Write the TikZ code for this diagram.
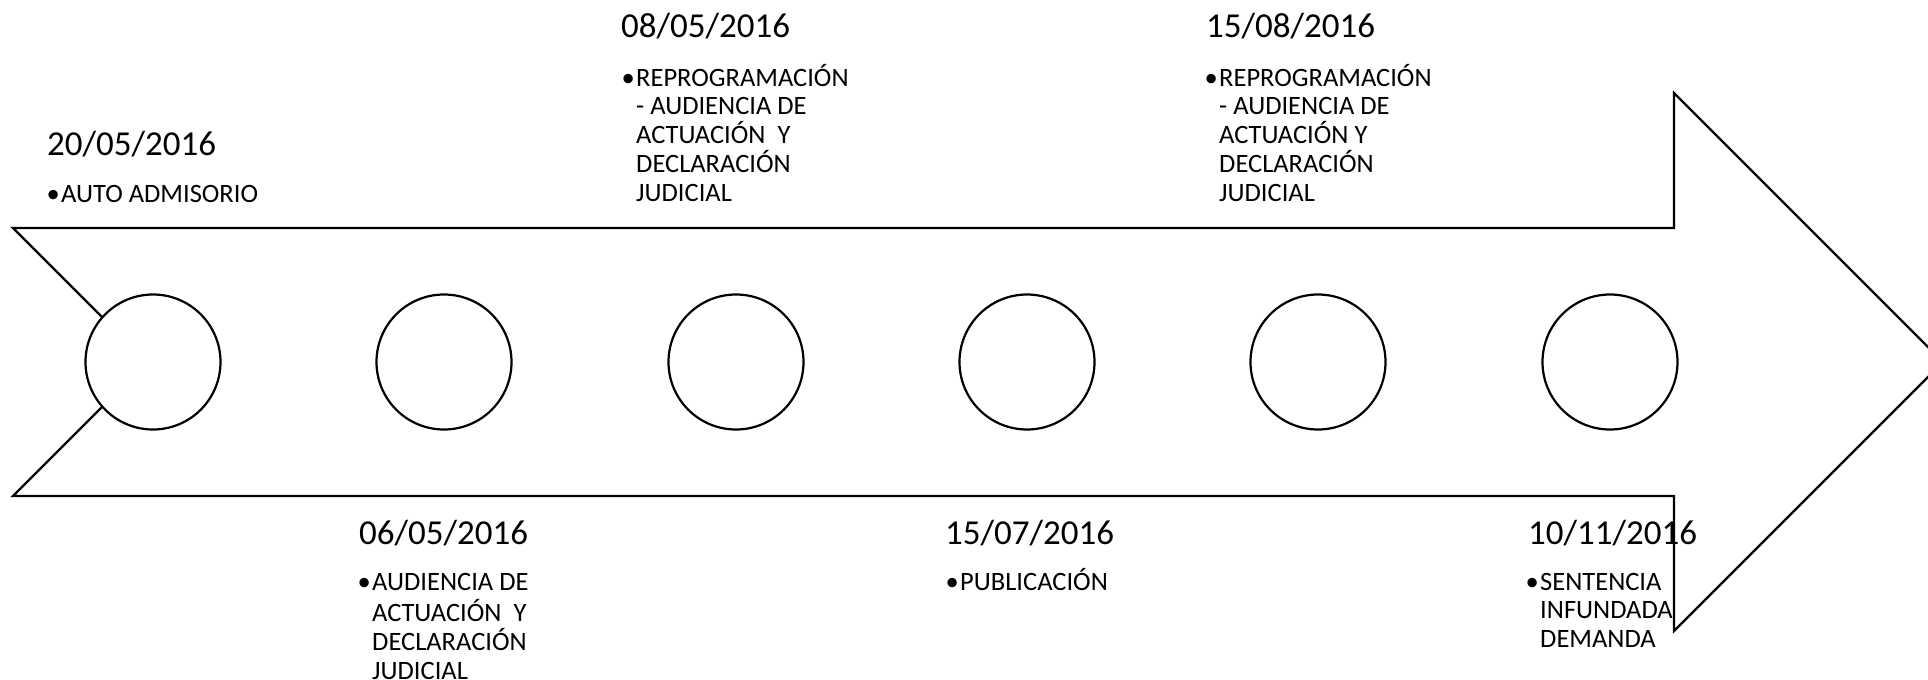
\documentclass[tikz,border=0pt]{standalone}
\usepackage{fontspec}
\setmainfont{Carlito}
\tikzset{
  outline/.style={draw=black, line width=2.2pt, line join=miter},
  dot/.style={circle, draw=black, line width=2.2pt, fill=white, minimum size=135pt, inner sep=0pt},
  datelbl/.style={anchor=base west, inner sep=0pt, font=\fontsize{35}{42}\selectfont},
  itemlbl/.style={anchor=base west, inner sep=0pt},
}
\newcommand{\blk}[1]{\parbox[t]{300pt}{\raggedright\fontsize{26.5}{28.9}\selectfont\strut\llap{\textbullet\hspace{1.5pt}}#1}}
\begin{document}
\begin{tikzpicture}[x=1pt,y=-1pt]
\useasboundingbox (0,0) rectangle (1928,680);
\fill[white] (0,0) rectangle (1928,680);
\begin{scope}
\clip (0,0) rectangle (1928,680);
\draw[outline] (13,228) -- (1674,228) -- (1674,93) -- (1943,362) -- (1674,631) -- (1674,496) -- (13,496) -- (147,362) -- cycle;
\end{scope}
\node[dot] (c1) at (153,362) {};
\node[dot] (c2) at (444,362) {};
\node[dot] (c3) at (736,362) {};
\node[dot] (c4) at (1027,362) {};
\node[dot] (c5) at (1318,362) {};
\node[dot] (c6) at (1610,362) {};

\node[datelbl] (d1) at (47,155) {20/05/2016};
\node[itemlbl] (t1) at (61,202) {\blk{AUTO ADMISORIO}};

\node[datelbl] (d3) at (621,37) {08/05/2016};
\node[itemlbl] (t3) at (636,86) {\blk{REPROGRAMACIÓN\\- AUDIENCIA DE\\ACTUACIÓN\ \ Y\\DECLARACIÓN\\JUDICIAL}};

\node[datelbl] (d5) at (1206,37) {15/08/2016};
\node[itemlbl] (t5) at (1219,86) {\blk{REPROGRAMACIÓN\\- AUDIENCIA DE\\ACTUACIÓN Y\\DECLARACIÓN\\JUDICIAL}};

\node[datelbl] (d2) at (359,544) {06/05/2016};
\node[itemlbl] (t2) at (372,590) {\blk{AUDIENCIA DE\\ACTUACIÓN\ \ Y\\DECLARACIÓN\\JUDICIAL}};

\node[datelbl] (d4) at (945,544) {15/07/2016};
\node[itemlbl] (t4) at (960,590) {\blk{PUBLICACIÓN}};

\node[datelbl] (d6) at (1528,544) {10/11/2016};
\node[itemlbl] (t6) at (1540,590) {\blk{SENTENCIA\\INFUNDADA\\DEMANDA}};
\end{tikzpicture}
\end{document}
